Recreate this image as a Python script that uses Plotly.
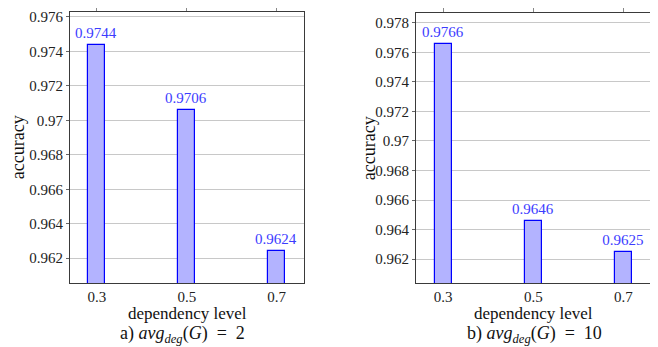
import plotly.graph_objects as go

# ---- data ----
dependency_levels = [0.3, 0.5, 0.7]
x_tick_labels = ["0.3", "0.5", "0.7"]

acc_deg2 = [0.9744, 0.9706, 0.9624]
acc_deg10 = [0.9766, 0.9646, 0.9625]

y_ticks_a = [0.962, 0.964, 0.966, 0.968, 0.970, 0.972, 0.974, 0.976]
y_tick_labels_a = ["0.962", "0.964", "0.966", "0.968", "0.97", "0.972", "0.974", "0.976"]
y_ticks_b = [0.962, 0.964, 0.966, 0.968, 0.970, 0.972, 0.974, 0.976, 0.978]
y_tick_labels_b = ["0.962", "0.964", "0.966", "0.968", "0.97", "0.972", "0.974", "0.976", "0.978"]

caption_a = "a) <i>avg</i><sub><i>deg</i></sub>(<i>G</i>)&nbsp; = &nbsp;2"
caption_b = "b) <i>avg</i><sub><i>deg</i></sub>(<i>G</i>)&nbsp; = &nbsp;10"

FONT = "'Liberation Serif', 'Times New Roman', Times, serif"
BAR_FILL = "#b3b3ff"
BAR_LINE = "#0000ff"
LABEL_COLOR = "#3c3cff"
FRAME = "#3a3a3a"
GRID = "#c8c8c8"
OFF = 8  # page body margin
W, H = 658 - OFF, 347 - OFF

fig = go.Figure()

def add_bars(vals, xa, ya):
    fig.add_trace(go.Bar(
        x=dependency_levels, y=vals, width=0.0378,
        marker=dict(color=BAR_FILL, line=dict(color=BAR_LINE, width=1.2)),
        text=[f"{v:.4f}" for v in vals], textposition="outside",
        constraintext="none",
        textfont=dict(family=FONT, size=15, color=LABEL_COLOR),
        cliponaxis=False, xaxis=xa, yaxis=ya, showlegend=False,
    ))

add_bars(acc_deg2, "x", "y")
add_bars(acc_deg10, "x2", "y2")

# pixel-based domains (reference pixel coordinates)
def px_x(a, b):
    return [(a - OFF) / W, (b - OFF) / W]

def px_y(top, bottom):
    return [(H - (bottom - OFF)) / H, (H - (top - OFF)) / H]

dom_a_x = px_x(70, 304)
dom_b_x = px_x(416, 651)
dom_a_y = px_y(10, 283)
dom_b_y = px_y(11, 283)

xcommon = dict(
    tickmode="array", tickvals=dependency_levels, ticktext=x_tick_labels,
    range=[0.24, 0.761], showline=True, linecolor=FRAME, linewidth=1.2,
    mirror=True, ticks="", showgrid=False, zeroline=False,
    tickfont=dict(family=FONT, size=15, color="#222"),
)
ycommon = dict(
    tickmode="array", showline=True, linecolor=FRAME, linewidth=1.2,
    mirror=True, ticks="outside", ticklen=3, tickcolor="#666",
    showgrid=True, gridcolor=GRID, gridwidth=1, zeroline=False,
    tickfont=dict(family=FONT, size=15, color="#222"),
)

fig.update_layout(
    width=W, height=H,
    margin=dict(l=0, r=0, t=0, b=0),
    paper_bgcolor="white", plot_bgcolor="white",
    font=dict(family=FONT),
    bargap=0,
    xaxis=dict(domain=dom_a_x, anchor="y", **xcommon),
    yaxis=dict(domain=dom_a_y, anchor="x", range=[0.96054, 0.97629],
               tickvals=y_ticks_a, ticktext=y_tick_labels_a, **ycommon),
    xaxis2=dict(domain=dom_b_x, anchor="y2", **xcommon),
    yaxis2=dict(domain=dom_b_y, anchor="x2", range=[0.960355, 0.97867],
                tickvals=y_ticks_b, ticktext=y_tick_labels_b, **ycommon),
    # top tick marks
    xaxis3=dict(domain=dom_a_x, anchor="y", overlaying="x", side="top",
                range=[0.24, 0.761], tickmode="array", tickvals=dependency_levels,
                showticklabels=False, ticks="outside", ticklen=4, tickcolor="#888",
                showgrid=False, zeroline=False, showline=False),
    xaxis4=dict(domain=dom_b_x, anchor="y2", overlaying="x2", side="top",
                range=[0.24, 0.761], tickmode="array", tickvals=dependency_levels,
                showticklabels=False, ticks="outside", ticklen=4, tickcolor="#888",
                showgrid=False, zeroline=False, showline=False),
)

# invisible traces to activate the overlay (top tick) axes
fig.add_trace(go.Scatter(x=[0.3], y=[0.97], xaxis="x3", yaxis="y", mode="markers",
                         marker=dict(opacity=0), showlegend=False, hoverinfo="skip"))
fig.add_trace(go.Scatter(x=[0.3], y=[0.97], xaxis="x4", yaxis="y2", mode="markers",
                         marker=dict(opacity=0), showlegend=False, hoverinfo="skip"))

def ann(text, xc, yc, size=18, angle=0):
    fig.add_annotation(text=text, x=(xc - OFF) / W, y=(H - (yc - OFF)) / H,
                       xref="paper", yref="paper",
                       showarrow=False, textangle=angle, xanchor="center", yanchor="middle",
                       font=dict(family=FONT, size=size, color="#111"))

ann("dependency level", 187, 313, size=17)
ann("dependency level", 533, 313, size=17)
ann(caption_a, 182, 334, size=18)
ann(caption_b, 534, 334, size=18)
ann("accuracy", 18, 146, angle=-90)
ann("accuracy", 369, 147, angle=-90)

fig.write_html("out.html")
